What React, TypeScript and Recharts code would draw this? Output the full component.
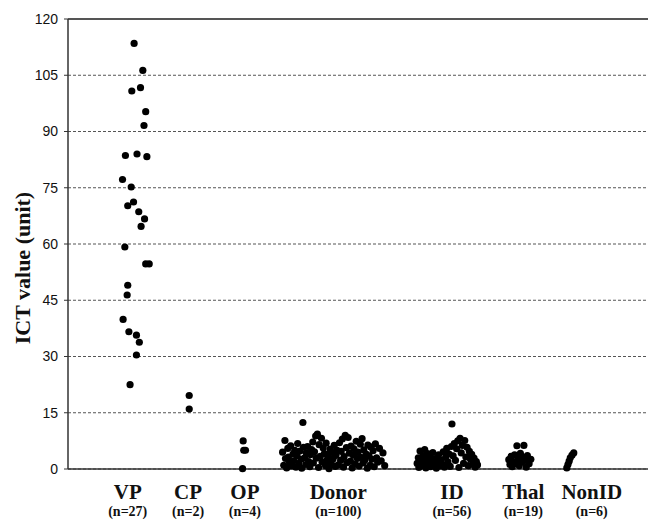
import React from 'react';
import { ScatterChart, Scatter, XAxis, YAxis, CartesianGrid, ReferenceLine, Label } from 'recharts';

const categories = ['VP', 'CP', 'OP', 'Donor', 'ID', 'Thal', 'NonID'];
const counts = ['(n=27)', '(n=2)', '(n=4)', '(n=100)', '(n=56)', '(n=19)', '(n=6)'];
const categoryPos = [1.03, 2.07, 3.05, 4.66, 6.62, 7.85, 9.03];
const yTicks = [0, 15, 30, 45, 60, 75, 90, 105, 120];

const vpPoints = [
  [1.14, 113.5], [1.29, 106.3], [1.1, 100.8], [1.25, 101.7], [1.34, 95.3], [1.31, 91.6],
  [0.99, 83.6], [1.19, 84.0], [1.36, 83.3], [0.94, 77.2], [1.09, 75.2], [1.03, 70.2],
  [1.13, 71.2], [1.22, 68.6], [1.32, 66.7], [1.26, 64.7], [0.98, 59.2], [1.34, 54.7],
  [1.4, 54.7], [1.03, 49.0], [1.02, 46.4], [0.95, 39.9], [1.05, 36.6], [1.18, 35.7],
  [1.23, 33.8], [1.18, 30.4], [1.07, 22.5],
];
const cpPoints = [[2.09, 19.6], [2.09, 16.0]];
const opPoints = [[3.02, 7.5], [3.06, 5.0], [3.03, 5.0], [3.01, 0.1]];
const donorPoints = [
  [3.7, 4.5], [3.72, 1.0], [3.74, 7.6], [3.75, 2.8], [3.77, 0.3], [3.79, 5.5], [3.8, 3.2], [3.82, 1.8], [3.84, 6.2], [3.86, 0.8],
  [3.88, 4.0], [3.89, 2.2], [3.91, 5.0], [3.93, 0.5], [3.95, 3.5], [3.96, 6.8], [3.98, 1.5], [4.0, 4.8], [4.02, 2.6], [4.03, 0.2],
  [4.05, 12.4], [4.06, 5.8], [4.08, 3.0], [4.1, 1.2], [4.11, 4.3], [4.13, 6.0], [4.15, 2.0], [4.17, 0.6], [4.18, 3.8], [4.2, 5.2],
  [4.22, 7.2], [4.23, 1.6], [4.25, 4.6], [4.27, 8.8], [4.28, 2.9], [4.3, 9.3], [4.32, 0.4], [4.33, 6.5], [4.35, 3.4], [4.37, 8.2],
  [4.38, 1.9], [4.4, 5.6], [4.42, 4.1], [4.44, 0.9], [4.45, 6.9], [4.47, 2.5], [4.49, 3.9], [4.5, 0.1], [4.52, 5.3], [4.54, 1.4],
  [4.56, 4.4], [4.57, 2.7], [4.59, 6.3], [4.61, 0.7], [4.62, 3.6], [4.64, 5.0], [4.66, 1.1], [4.68, 7.0], [4.7, 2.3], [4.71, 4.7],
  [4.73, 8.0], [4.75, 0.5], [4.76, 3.3], [4.78, 9.0], [4.8, 5.7], [4.81, 1.7], [4.83, 8.4], [4.85, 4.2], [4.87, 2.1], [4.88, 6.1],
  [4.9, 0.3], [4.92, 3.7], [4.93, 5.4], [4.95, 1.3], [4.97, 7.4], [4.99, 2.8], [5.0, 4.5], [5.02, 0.8], [5.04, 6.6], [5.05, 3.1],
  [5.07, 8.1], [5.09, 1.6], [5.1, 5.1], [5.12, 2.4], [5.14, 4.0], [5.16, 0.2], [5.17, 6.4], [5.19, 3.5], [5.21, 1.0], [5.22, 5.9],
  [5.24, 2.6], [5.26, 4.9], [5.28, 0.6], [5.3, 6.7], [5.32, 3.0], [5.34, 1.8], [5.37, 5.5], [5.4, 2.2], [5.43, 4.3], [5.46, 0.9],
];
const idPoints = [
  [6.02, 1.5], [6.04, 3.0], [6.05, 0.4], [6.07, 4.8], [6.09, 2.2], [6.1, 0.9], [6.12, 3.6], [6.14, 1.8], [6.15, 5.2], [6.17, 0.3],
  [6.19, 2.6], [6.2, 4.1], [6.22, 1.2], [6.24, 3.3], [6.25, 0.6], [6.27, 2.0], [6.29, 4.4], [6.31, 1.0], [6.33, 2.8], [6.35, 0.2],
  [6.37, 1.6], [6.39, 3.8], [6.41, 0.8], [6.43, 2.4], [6.45, 1.3], [6.47, 4.6], [6.49, 0.5], [6.51, 3.1], [6.53, 5.5], [6.55, 1.9],
  [6.57, 4.0], [6.59, 0.7], [6.61, 6.0], [6.62, 12.0], [6.64, 3.5], [6.66, 6.8], [6.68, 2.3], [6.7, 5.4], [6.72, 7.5], [6.74, 0.4],
  [6.76, 8.2], [6.78, 4.3], [6.8, 6.3], [6.82, 1.5], [6.84, 7.6], [6.86, 3.2], [6.88, 5.8], [6.9, 0.9], [6.92, 4.7], [6.94, 2.6],
  [6.96, 3.9], [6.98, 1.2], [7.0, 2.9], [7.02, 0.5], [7.04, 2.0], [7.06, 1.1],
];
const thalPoints = [
  [7.6, 2.5], [7.62, 1.2], [7.64, 3.4], [7.66, 0.6], [7.68, 2.0], [7.7, 3.8], [7.72, 1.5], [7.74, 6.2], [7.76, 2.8], [7.78, 0.9],
  [7.8, 4.2], [7.82, 1.8], [7.84, 3.1], [7.86, 6.3], [7.88, 2.3], [7.9, 0.5], [7.92, 3.6], [7.95, 1.4], [7.98, 2.6],
];
const nonIdPoints = [[8.6, 0.3], [8.62, 1.2], [8.64, 2.1], [8.66, 3.0], [8.69, 3.7], [8.72, 4.3]];

const groups = [vpPoints, cpPoints, opPoints, donorPoints, idPoints, thalPoints, nonIdPoints];
const toRows = (pts: number[][]) => pts.map(([x, y]) => ({ x, y }));

const Dot = (p: any) => <circle cx={p.cx} cy={p.cy} r={3.6} fill="#000" />;

const CatTick = (props: any) => {
  const { x, y, index } = props;
  return (
    <g transform={`translate(${x},${y})`}>
      <text x={0} y={30} textAnchor="middle" fontFamily="'Liberation Serif', serif" fontWeight="bold" fontSize={21} fill="#111">
        {categories[index]}
      </text>
      <text x={0} y={47} textAnchor="middle" fontFamily="'Liberation Serif', serif" fontWeight="bold" fontSize={14} fill="#111">
        {counts[index]}
      </text>
    </g>
  );
};

export default function App() {
  return (
    <div style={{ position: 'absolute', left: 0, top: 0, background: '#fff' }}>
      <ScatterChart width={650} height={520} margin={{ top: 19, right: 2, bottom: 0, left: 0 }}>
        <CartesianGrid horizontal vertical={false} stroke="#555" strokeDasharray="3 2" />
        <XAxis
          type="number"
          dataKey="x"
          domain={[0, 10]}
          ticks={categoryPos}
          interval={0}
          tick={<CatTick />}
          tickLine={false}
          tickSize={0}
          tickMargin={0}
          height={51}
          axisLine={{ stroke: '#333', strokeWidth: 1.5 }}
        />
        <YAxis
          type="number"
          dataKey="y"
          domain={[0, 120]}
          ticks={yTicks}
          interval={0}
          width={68}
          tickSize={4}
          tickMargin={6}
          tickLine={{ stroke: '#333' }}
          axisLine={{ stroke: '#333', strokeWidth: 1.5 }}
          tick={{ fill: '#111', fontSize: 14, fontFamily: "'Liberation Sans', Arial, sans-serif" }}
        >
          <Label
            content={() => (
              <text
                x={22}
                y={268}
                transform="rotate(-90 22 268)"
                textAnchor="middle"
                dominantBaseline="central"
                fontFamily="'Liberation Serif', serif"
                fontWeight="bold"
                fontSize={22}
                fill="#111"
              >
                ICT value (unit)
              </text>
            )}
          />
        </YAxis>
        <ReferenceLine y={120} stroke="#555" strokeWidth={2} />
        {groups.map((g, i) => (
          <Scatter key={categories[i]} data={toRows(g)} shape={Dot} isAnimationActive={false} />
        ))}
      </ScatterChart>
    </div>
  );
}
